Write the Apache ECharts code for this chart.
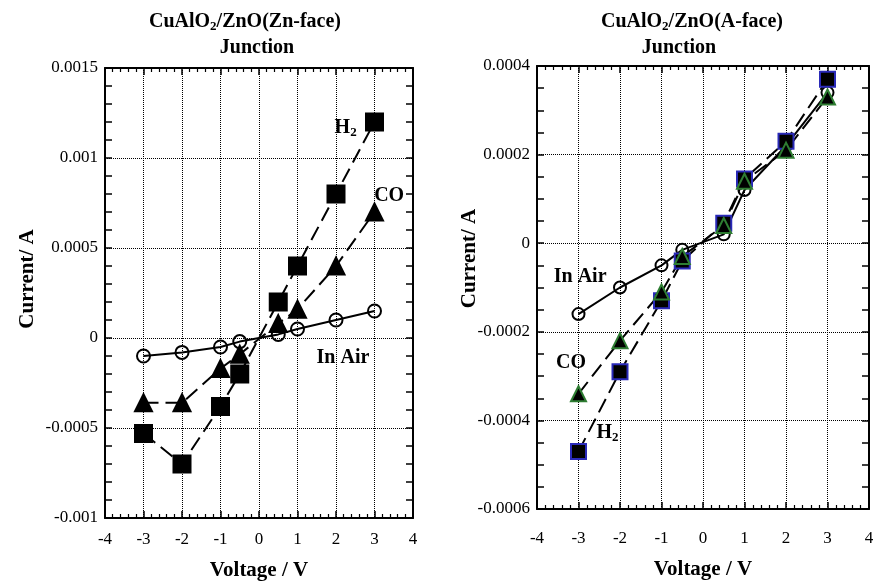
<!DOCTYPE html>
<html>
<head>
<meta charset="utf-8">
<script src="https://cdn.jsdelivr.net/npm/echarts@6/dist/echarts.min.js"></script>
<style>
  html, body { margin: 0; padding: 0; background: #fff; }
  #container { width: 876px; height: 581px; }
</style>
</head>
<body>
<div id="container"></div>
<script>
// voltage steps shared by every curve
var voltage = [-3, -2, -1, -0.5, 0.5, 1, 2, 3];

// Zn-face junction (left panel)
var znAir = [-0.0001, -0.00008, -0.00005, -0.00002, 0.00002, 0.00005, 0.0001, 0.00015];
var znH2  = [-0.00053, -0.0007, -0.00038, -0.0002, 0.0002, 0.0004, 0.0008, 0.0012];
var znCO  = [-0.00036, -0.00036, -0.00017, -0.00009, 0.00008, 0.00016, 0.0004, 0.0007];

// A-face junction (right panel)
var aAir = [-0.00016, -0.0001, -0.00005, -0.000015, 0.00002, 0.00012, 0.00022, 0.00034];
var aH2  = [-0.00047, -0.00029, -0.00013, -0.00004, 0.000045, 0.000145, 0.00023, 0.00037];
var aCO  = [-0.00034, -0.00022, -0.00011, -0.00003, 0.00004, 0.00014, 0.00021, 0.00033];

// curve labels, in data coordinates: [x, y, text]
var znNotes = [[2.25, 0.00117, 'H2'], [3.38, 0.00079, 'CO'], [2.18, -0.00011, 'In Air']];
var aNotes  = [[-2.3, -0.000428, 'H2'], [-3.18, -0.00027, 'CO'], [-2.96, -0.000076, 'In Air']];

var serif = '"Liberation Serif", "DejaVu Serif", serif';

var dom = document.getElementById('container');
var myChart = echarts.init(dom);

function pairs(ys) {
    return voltage.map(function (v, i) { return [v, ys[i]]; });
}

function fmtY(v) {
    var r = Math.round(v * 1e6) / 1e6;
    return r === 0 ? '0' : String(r);
}

function xAxisFor(grid, top, margin, gap) {
    return {
        type: 'value', gridIndex: grid, position: top ? 'top' : 'bottom',
        min: -4, max: 4, interval: 1,
        axisLine: { onZero: false, lineStyle: { color: '#000', width: 2 } },
        axisTick: { inside: true, length: 7, lineStyle: { color: '#000', width: 1.5 } },
        minorTick: { show: true, splitNumber: 5, length: 4, lineStyle: { color: '#000', width: 1.2 } },
        splitLine: { show: !top, lineStyle: { type: 'dotted', color: '#000', width: 1 } },
        axisLabel: { show: !top, margin: margin, color: '#000', fontFamily: serif, fontSize: 17 },
        name: top ? '' : 'Voltage / V',
        nameLocation: 'middle',
        nameGap: gap,
        nameTextStyle: { color: '#000', fontFamily: serif, fontWeight: 'bold', fontSize: 21 }
    };
}

function yAxisFor(grid, right, min, max, step, minor, gap, shift) {
    return {
        type: 'value', gridIndex: grid, position: right ? 'right' : 'left',
        min: min, max: max, interval: step,
        axisLine: { onZero: false, lineStyle: { color: '#000', width: 2 } },
        axisTick: { inside: true, length: 7, lineStyle: { color: '#000', width: 1.5 } },
        minorTick: { show: true, splitNumber: minor, length: 7, lineStyle: { color: '#000', width: 1.5 } },
        splitLine: { show: !right, lineStyle: { type: 'dotted', color: '#000', width: 1 } },
        axisLabel: { show: !right, margin: 7, color: '#000', fontFamily: serif, fontSize: 17, formatter: fmtY },
        name: right ? '' : 'Current/ A',
        nameLocation: 'middle',
        nameGap: gap,
        nameMoveOverlap: false,
        nameTextStyle: { color: '#000', fontFamily: serif, fontWeight: 'bold', fontSize: 21,
                         padding: [0, 0, 0, shift] }
    };
}

var richText = {
    b: { fontFamily: serif, fontWeight: 'bold', fontSize: 20, color: '#000', lineHeight: 25,
         textBorderWidth: 0 },
    s: { fontFamily: serif, fontWeight: 'bold', fontSize: 13, color: '#000', lineHeight: 25,
         padding: [10, 0, 0, 0], textBorderWidth: 0 }
};

function noteText(t) {
    if (t === 'H2') return '{b|H}{s|2}';
    return '{b|' + t + '}';
}

function lineSeries(name, xi, ys, symbol, size, fill, border, dashed) {
    return {
        name: name, type: 'line', xAxisIndex: xi, yAxisIndex: xi,
        data: pairs(ys),
        symbol: symbol, symbolSize: size,
        lineStyle: { color: '#000', width: 2, type: dashed ? [15, 7] : 'solid' },
        itemStyle: { color: fill, borderColor: border, borderWidth: 2 },
        z: 3
    };
}

function noteSeries(xi, notes) {
    return {
        type: 'scatter', xAxisIndex: xi, yAxisIndex: xi, silent: true,
        symbolSize: 0, z: 5,
        itemStyle: { color: '#000', opacity: 1 },
        data: notes.map(function (n) { return { value: [n[0], n[1]], text: n[2] }; }),
        label: {
            show: true, position: 'inside', color: '#000', textBorderWidth: 0, opacity: 1,
            formatter: function (p) { return noteText(p.data.text); },
            rich: richText
        }
    };
}

function titleLine(x, y, text) {
    return { text: text, left: x, top: y, textAlign: 'center', padding: 0,
             textStyle: { rich: richText } };
}

var option = {
    backgroundColor: '#fff',
    animation: false,
    title: [
        titleLine(245, 9, '{b|CuAlO}{s|2}{b|/ZnO(Zn-face)}'),
        titleLine(257, 35, '{b|Junction}'),
        titleLine(692, 9, '{b|CuAlO}{s|2}{b|/ZnO(A-face)}'),
        titleLine(679, 35, '{b|Junction}')
    ],
    grid: [
        { left: 105, right: 463, top: 68, bottom: 63, outerBoundsMode: 'none', containLabel: false },
        { left: 537, right: 7, top: 66, bottom: 72, outerBoundsMode: 'none', containLabel: false }
    ],
    xAxis: [
        xAxisFor(0, false, 13, 42),
        xAxisFor(0, true, 13, 42),
        xAxisFor(1, false, 21, 50),
        xAxisFor(1, true, 21, 50)
    ],
    yAxis: [
        yAxisFor(0, false, -0.001, 0.0015, 0.0005, 5, 67, 28),
        yAxisFor(0, true, -0.001, 0.0015, 0.0005, 5, 0, 0),
        yAxisFor(1, false, -0.0006, 0.0004, 0.0002, 4, 57, 58),
        yAxisFor(1, true, -0.0006, 0.0004, 0.0002, 4, 0, 0)
    ],
    series: [
        lineSeries('In Air', 0, znAir, 'circle', 13, 'rgba(255,255,255,0)', '#000', false),
        lineSeries('CO', 0, znCO, 'triangle', 17, '#000', '#000', true),
        lineSeries('H2', 0, znH2, 'rect', 17, '#000', '#000', true),
        lineSeries('In Air', 2, aAir, 'circle', 12, 'rgba(255,255,255,0)', '#000', false),
        lineSeries('H2', 2, aH2, 'rect', 15, '#000', '#2a2ab8', true),
        lineSeries('CO', 2, aCO, 'triangle', 15, '#000', '#2e7d32', true),
        noteSeries(0, znNotes),
        noteSeries(2, aNotes)
    ]
};

myChart.setOption(option, true);
</script>
</body>
</html>
